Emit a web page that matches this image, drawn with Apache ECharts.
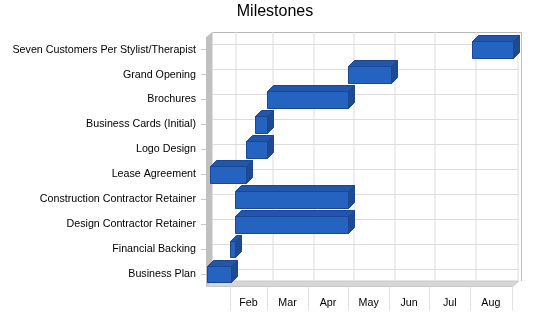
<!DOCTYPE html>
<html><head><meta charset="utf-8">
<script src="https://cdn.jsdelivr.net/npm/echarts@6/dist/echarts.min.js"></script>
<style>html,body{margin:0;padding:0;background:#fff}#c{width:550px;height:318px}</style>
</head><body><div id="c"></div>
<script>
const tasks = ['Business Plan','Financial Backing','Design Contractor Retainer','Construction Contractor Retainer','Lease Agreement','Logo Design','Business Cards (Initial)','Brochures','Grand Opening','Seven Customers Per Stylist/Therapist'];
const startDates = ['2003-01-15','2003-02-01','2003-02-05','2003-02-05','2003-01-17','2003-02-13','2003-02-20','2003-03-01','2003-05-01','2003-08-02'];
const endDates   = ['2003-02-02','2003-02-05','2003-05-01','2003-05-01','2003-02-13','2003-03-01','2003-03-01','2003-05-01','2003-06-02','2003-09-02'];
const monthLabels = ['Feb','Mar','Apr','May','Jun','Jul','Aug'];
const monthStarts = ['2003-02-01','2003-03-01','2003-04-01','2003-05-01','2003-06-01','2003-07-01','2003-08-01','2003-09-01'];
const axisStart = '2003-01-15', axisEnd = '2003-09-02';

function ts(s){const p=s.split('-');return Date.UTC(+p[0],+p[1]-1,+p[2]);}
const FAM = '"Liberation Sans", Arial, sans-serif';
const FONT = '10.7px ' + FAM;
const WD = 5.5;   // wall depth offset
const BD = 6;     // bar depth offset

const chart = echarts.init(document.getElementById('c'), null, {renderer:'canvas'});

function renderWalls(params, api){
  const cs = params.coordSys;
  const x = cs.x, y = cs.y, w = cs.width, h = cs.height;
  const ch = [];
  ch.push({type:'rect', shape:{x:x+WD, y:y-WD, width:w, height:h}, style:{fill:'#ffffff'}});
  for (let i=0;i<tasks.length;i++){
    const yc = Math.round(api.coord([ts(axisStart), i])[1]-WD)+0.5;
    ch.push({type:'line', shape:{x1:x+WD, y1:yc, x2:x+w+WD, y2:yc}, style:{stroke:'#dcdcdc', lineWidth:1}});
  }
  ch.push({type:'polygon', shape:{points:[[x-1,y],[x+WD,y-WD],[x+WD,y+h-WD],[x-1,y+h]]}, style:{fill:'#c0c0c0'}});
  ch.push({type:'polygon', shape:{points:[[x-1,y+h],[x+WD,y+h-WD],[x+w+WD,y+h-WD],[x+w,y+h]]}, style:{fill:'#d6d6d6', stroke:'#c8c8c8', lineWidth:1}});
  const tY = Math.round(y-WD)+0.5;
  const rX = Math.round(x+w+WD)+0.5;
  ch.push({type:'line', shape:{x1:x+WD, y1:tY, x2:rX+2, y2:tY}, style:{stroke:'#b8b8b8', lineWidth:1}});
  ch.push({type:'line', shape:{x1:rX+2, y1:tY, x2:rX+2, y2:y+h-WD}, style:{stroke:'#c0c0c0', lineWidth:1}});
  return {type:'group', children:ch};
}

function renderMonths(params, api){
  const cs = params.coordSys;
  const y = cs.y, h = cs.height;
  const i = params.dataIndex;
  const xs = Math.round(api.coord([api.value(0), 0])[0]);
  const ch = [];
  ch.push({type:'line', shape:{x1:xs+WD+0.5, y1:y-WD, x2:xs+WD+0.5, y2:y+h-WD}, style:{stroke:'#dcdcdc', lineWidth:1}});
  ch.push({type:'line', shape:{x1:xs+0.5, y1:y+h, x2:xs+0.5, y2:y+h+24}, style:{stroke:'#e0e0e0', lineWidth:1}});
  if (i < monthLabels.length){
    const xe = api.coord([ts(monthStarts[i+1]), 0])[0];
    ch.push({type:'text', style:{text:monthLabels[i], x:(xs+xe)/2, y:y+h+17, align:'center', verticalAlign:'middle', font:FONT, fill:'#000'}});
  }
  return {type:'group', children:ch};
}

function renderBar(params, api){
  const cat = api.value(2);
  const s = api.coord([api.value(0), cat]);
  const e = api.coord([api.value(1), cat]);
  const bh = api.size([0,1])[1]*0.67;
  const x1 = Math.round(s[0])+0.5, x2 = Math.round(e[0])+0.5;
  const yt = Math.round(s[1]-bh/2)+0.5, yb = Math.round(s[1]+bh/2)+0.5;
  const d = BD, edge = '#1b4690';
  return {type:'group', children:[
    {type:'polygon', shape:{points:[[x1,yt],[x1+d,yt-d],[x2+d,yt-d],[x2,yt]]}, style:{fill:'#2256ac', stroke:edge, lineWidth:1}},
    {type:'polygon', shape:{points:[[x2,yt],[x2+d,yt-d],[x2+d,yb-d],[x2,yb]]}, style:{fill:'#1e4a92', stroke:edge, lineWidth:1}},
    {type:'rect', shape:{x:x1, y:yt, width:x2-x1, height:yb-yt}, style:{fill:'#2563c1', stroke:edge, lineWidth:1}}
  ]};
}

chart.setOption({
  animation:false,
  backgroundColor:'#ffffff',
  title:{text:'Milestones', left:'center', top:-1, textStyle:{fontSize:16, fontWeight:'normal', color:'#000', fontFamily:FAM}},
  grid:{left:207, right:37, top:37.2, bottom:31.5, containLabel:false},
  xAxis:{type:'time', min:ts(axisStart), max:ts(axisEnd), show:false},
  yAxis:{type:'category', data:tasks,
    axisLine:{show:false},
    axisTick:{show:true, alignWithLabel:true, length:6, lineStyle:{color:'#c8c8c8'}},
    axisLabel:{margin:11, fontSize:10.7, color:'#000', fontFamily:FAM, padding:[4,0,0,0]},
    splitLine:{show:false}},
  series:[
    {type:'custom', z:1, silent:true, clip:false, renderItem:renderWalls, data:[[ts(axisStart), 0]]},
    {type:'custom', z:2, silent:true, clip:false, renderItem:renderMonths, data:monthStarts.map(m=>[ts(m), 0])},
    {type:'custom', z:3, clip:false, renderItem:renderBar, encode:{x:[0,1], y:2},
     data:tasks.map((t,i)=>[ts(startDates[i]), ts(endDates[i]), i])}
  ]
});
</script></body></html>
